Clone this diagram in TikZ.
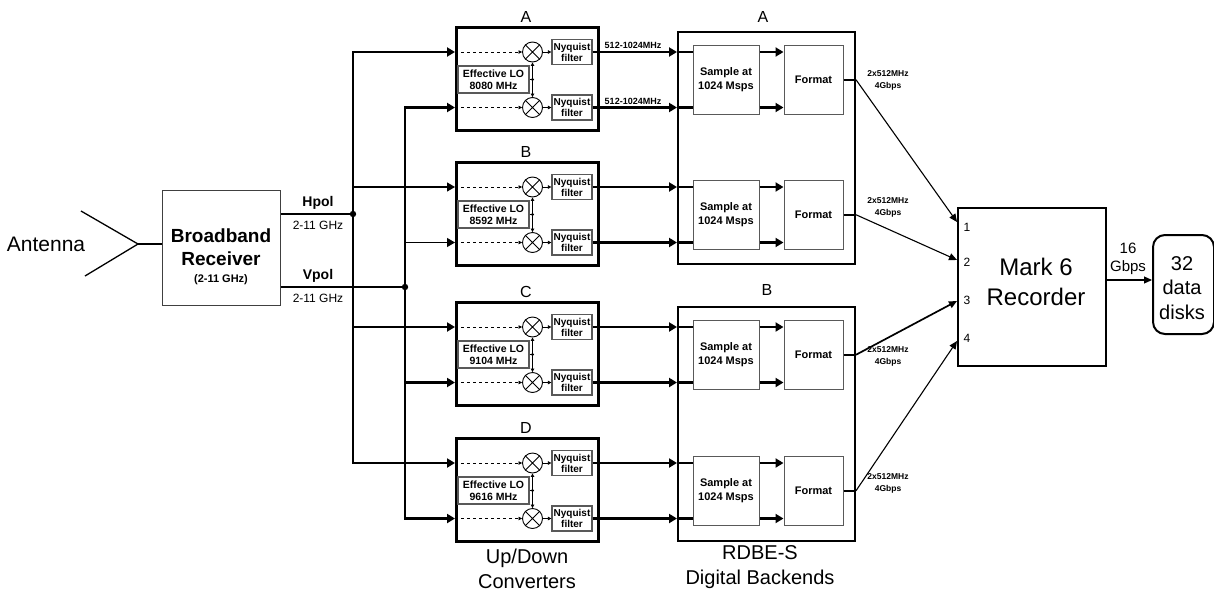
\documentclass[tikz,border=0pt]{standalone}
\usepackage{fontspec}
\setmainfont{Liberation Sans}
\usetikzlibrary{arrows.meta,calc}
\newcommand\fsz[1]{\fontsize{#1}{#1}\selectfont}
\newcommand\bfsz[2]{\fontsize{#1}{#2}\selectfont\bfseries}
\tikzset{
  bus/.style={line width=2.5pt},
  thinln/.style={line width=1.1pt},
  bigtip/.style={-{Triangle[length=8pt,width=9pt]}},
  midtip/.style={-{Triangle[length=8pt,width=7pt]}},
  smalltip/.style={-{Triangle[length=3.5pt,width=3.5pt]}},
  convbox/.style={draw,line width=2.6pt,minimum width=142pt,minimum height=103pt,inner sep=0pt,anchor=north west},
  mixer/.style={circle,draw,line width=0.9pt,minimum size=20pt,inner sep=0pt},
  filtbox/.style={draw=black!65,line width=1.2pt,minimum width=40pt,minimum height=25pt,inner sep=0pt,align=center,font=\bfsz{10}{11}},
  lobox/.style={draw=black!65,line width=1.2pt,minimum width=71pt,minimum height=27pt,inner sep=0pt,align=center,font=\bfsz{10.5}{12.5}},
  dbebox/.style={draw,line width=2pt,minimum width=177pt,anchor=north west,inner sep=0pt},
  sampbox/.style={draw=black!65,line width=1pt,minimum width=66pt,minimum height=69pt,inner sep=0pt,align=center,font=\bfsz{11}{14}},
  fmtbox/.style={draw=black!65,line width=1pt,minimum width=59pt,minimum height=69pt,inner sep=0pt,align=center,font=\bfsz{11}{14}},
  ratelab/.style={font=\bfsz{8.5}{12},align=center,inner sep=0pt},
  bandlab/.style={font=\bfsz{9}{10},inner sep=0pt},
  biglab/.style={align=center,inner sep=0pt},
  letterlab/.style={font=\fsz{16},inner sep=0pt},
}
\newcommand\mkconv[3]{%
  \node[convbox] (#1) at (455,#2) {};
  \node[letterlab] (#1-lab) at (526,#2-9) {#1};
  \coordinate (#1-in1) at (455,#2+26);
  \coordinate (#1-in2) at (455,#2+81.5);
  \node[mixer] (#1-m1) at (532.5,#2+26) {};
  \node[mixer] (#1-m2) at (532.5,#2+81.5) {};
  \draw[line width=0.9pt] (#1-m1.north west) -- (#1-m1.south east) (#1-m1.north east) -- (#1-m1.south west)
     (#1-m2.north west) -- (#1-m2.south east) (#1-m2.north east) -- (#1-m2.south west);
  \node[filtbox] (#1-f1) at (572,#2+26) {Nyquist\\filter};
  \node[filtbox] (#1-f2) at (572,#2+81.5) {Nyquist\\filter};
  \node[lobox] (#1-lo) at (493.5,#2+53.5) {Effective LO\\#3 MHz};
  \coordinate (#1-j) at (532.5,#2+53.5);
  \draw[line width=0.9pt] (#1-lo.east) -- (#1-j);
  \fill (#1-j) circle (1.7pt);
  \draw[line width=0.9pt,smalltip] (#1-j) -- (#1-m1.south);
  \draw[line width=0.9pt,smalltip] (#1-j) -- (#1-m2.north);
  \draw[dashed,line width=0.7pt,smalltip] (#1-in1) -- (#1-m1.west);
  \draw[dashed,line width=0.7pt,smalltip] (#1-in2) -- (#1-m2.west);
  \draw[line width=0.7pt,smalltip] (#1-m1.east) -- (#1-f1.west);
  \draw[line width=0.7pt,smalltip] (#1-m2.east) -- (#1-f2.west);
}
% #1 pair name, #2 converter name, #3 centre y, #4 outer box, #5 rate label y
\newcommand\mkpair[5]{%
  \node[sampbox] (#1-s) at (726,#3) {Sample at\\1024 Msps};
  \node[fmtbox] (#1-f) at (813.5,#3) {Format};
  \coordinate (#1-i1) at (#4.west |- #2-f1.east);
  \coordinate (#1-i2) at (#4.west |- #2-f2.east);
  \draw[bus,bigtip] (#2-f1.east) -- (#1-i1);
  \draw[bus,bigtip] (#2-f2.east) -- (#1-i2);
  \draw[bus] (#1-i1) -- (#1-s.west |- #1-i1);
  \draw[bus] (#1-i2) -- (#1-s.west |- #1-i2);
  \draw[bus,bigtip] (#1-s.east |- #1-i1) -- (#1-f.west |- #1-i1);
  \draw[bus,bigtip] (#1-s.east |- #1-i2) -- (#1-f.west |- #1-i2);
  \coordinate (#1-o) at (#4.east |- #1-f.east);
  \draw[bus] (#1-f.east) -- (#1-o);
  \node[ratelab] (#1-rl) at (888,#5) {2x512MHz\\4Gbps};
}
\begin{document}
\begin{tikzpicture}[x=1pt,y=-1pt]
\useasboundingbox (0,0) rectangle (1214,597);

% antenna and receiver
\node[font=\fsz{21},inner sep=0pt] (ant-t) at (46,244) {Antenna};
\coordinate (ant) at (138,244);
\coordinate (ant-u) at (81,211);
\coordinate (ant-d) at (85,276);
\draw[line width=1.3pt] (ant-u) -- (ant) -- (ant-d);
\node[draw=black!75,line width=1.2pt,minimum width=118pt,minimum height=115pt,anchor=north west,inner sep=0pt] (recv) at (162,190) {};
\draw[bus] (ant) -- (recv.west |- ant);
\node[font=\bfsz{19}{19},inner sep=0pt] (recv-t1) at (221,236) {Broadband};
\node[font=\bfsz{19}{19},inner sep=0pt] (recv-t2) at (221,259) {Receiver};
\node[font=\bfsz{11}{11},inner sep=0pt] (recv-t3) at (221,280) {(2-11 GHz)};

% polarisations
\coordinate (hdot) at (353,214);
\coordinate (vdot) at (405,287);
\draw[bus] (recv.east |- hdot) -- (hdot);
\draw[bus] (recv.east |- vdot) -- (vdot);
\node[font=\bfsz{14}{14},inner sep=0pt] (hpol) at (318,203) {Hpol};
\node[font=\fsz{12},inner sep=0pt] (hband) at (318,225) {2-11 GHz};
\node[font=\bfsz{14}{14},inner sep=0pt] (vpol) at (318,276) {Vpol};
\node[font=\fsz{12},inner sep=0pt] (vband) at (318,298) {2-11 GHz};

% converters
\mkconv{A}{26}{8080}
\mkconv{B}{161}{8592}
\mkconv{C}{301}{9104}
\mkconv{D}{437}{9616}

% distribution
\draw[bus,bigtip] (hdot) |- (A-in1);
\draw[thinln,bigtip] (hdot) |- (B-in1);
\draw[bus,bigtip] (hdot) |- (C-in1);
\draw[bus,bigtip] (hdot) |- (D-in1);
\draw[bus,bigtip] (vdot) |- (A-in2);
\draw[thinln,bigtip] (vdot) |- (B-in2);
\draw[bus,bigtip] (vdot) |- (C-in2);
\draw[bus,bigtip] (vdot) |- (D-in2);
\fill (hdot) circle (3.2pt);
\fill (vdot) circle (3.2pt);

% digital backends
\node[dbebox,minimum height=232pt] (dbeA) at (677,31) {};
\node[dbebox,minimum height=234pt] (dbeB) at (677,306) {};
\node[letterlab] (dbeA-lab) at (763,17) {A};
\node[letterlab] (dbeB-lab) at (767,290) {B};
\mkpair{P1}{A}{79.75}{dbeA}{80}
\mkpair{P2}{B}{214.75}{dbeA}{207.5}
\mkpair{P3}{C}{354.75}{dbeB}{356}
\mkpair{P4}{D}{490.75}{dbeB}{483.5}
\node[bandlab] (band1) at (633,45.5) {512-1024MHz};
\node[bandlab] (band2) at (633,101) {512-1024MHz};

% Mark 6 recorder
\node[draw,line width=1.5pt,minimum width=148pt,minimum height=158pt,anchor=north west,inner sep=0pt] (m6) at (957,207) {};
\node[font=\fontsize{24}{30}\selectfont,align=center,inner sep=0pt] (m6-t) at (1036,282) {Mark 6\\Recorder};
\coordinate (m6-p1) at (957,222);
\coordinate (m6-p2) at (957,260);
\coordinate (m6-p3) at (957,301);
\coordinate (m6-p4) at (957,341);
\node[font=\fsz{12},inner sep=0pt] (n1) at (967,227) {1};
\node[font=\fsz{12},inner sep=0pt] (n2) at (967,262) {2};
\node[font=\fsz{12},inner sep=0pt] (n3) at (967,300) {3};
\node[font=\fsz{12},inner sep=0pt] (n4) at (967,338) {4};
\draw[thinln,midtip] (P1-o) -- (m6-p1);
\draw[thinln,midtip] (P2-o) -- (m6-p2);
\draw[line width=1.7pt,midtip] (P3-o) -- (m6-p3);
\draw[thinln,midtip] (P4-o) -- (m6-p4);

% disks
\node[draw,line width=2pt,rounded corners=12pt,minimum width=61pt,minimum height=99pt,anchor=north west,inner sep=0pt] (disks) at (1152,234) {};
\node[font=\fontsize{20}{24.5}\selectfont,align=center,inner sep=0pt] (disks-t) at (1182,288) {32\\data\\disks};
\coordinate (m6-out) at (m6.east |- 0,280);
\coordinate (dk-in) at (disks.west |- 0,280);
\draw[thinln,midtip] (m6-out) -- (dk-in);
\node[font=\fontsize{15}{18}\selectfont,align=center,inner sep=0pt] (rate16) at (1128,259) {16\\Gbps};

% bottom captions
\node[biglab,font=\fontsize{20}{25}\selectfont] (cap1) at (527,569) {Up/Down\\Converters};
\node[biglab,font=\fontsize{20}{25}\selectfont] (cap2) at (760,567.5) {RDBE-S\\Digital Backends};
\end{tikzpicture}
\end{document}
